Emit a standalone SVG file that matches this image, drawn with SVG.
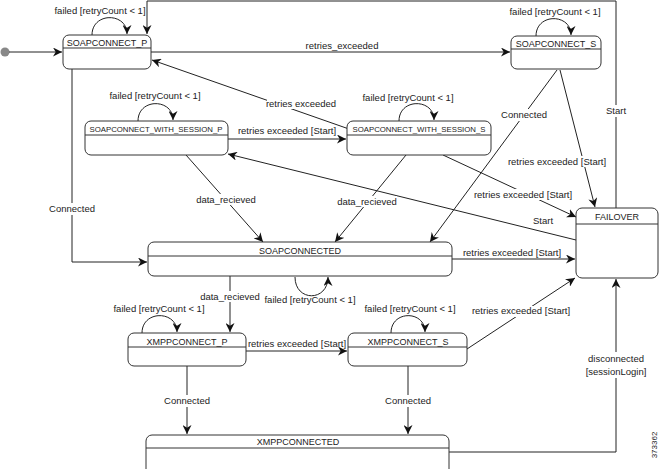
<svg xmlns="http://www.w3.org/2000/svg" width="660" height="469" viewBox="0 0 660 469">
<style>
.n{fill:#fff;stroke:#333;stroke-width:1}
.h{stroke:#333;stroke-width:1}
.c{fill:none;stroke:#222;stroke-width:1}
text{font-family:"Liberation Sans",Arial,sans-serif;font-size:9.5px;fill:#222;text-anchor:middle}
.t{font-size:9px}
.ts{font-size:7.8px}
.lb{fill:#fff;stroke:none}
</style>
<defs>
<marker id="a" viewBox="0 0 10 10" refX="10" refY="5" markerWidth="9" markerHeight="9" orient="auto" markerUnits="userSpaceOnUse"><path d="M0,0 L10,5 L0,10 L3,5 z" fill="#111"/></marker>
</defs>
<rect width="660" height="469" fill="#fff"/>
<g id="connectors">
<circle cx="5" cy="52" r="4.5" fill="#888"/>
<path class="c" d="M9,52 H62" marker-end="url(#a)"/>
<path class="c" d="M151,52 H510" marker-end="url(#a)"/>
<text x="342" y="49">retries_exceeded</text>
<path class="c" d="M616,208 V1 H147 V34" marker-end="url(#a)"/>
<rect class="lb" x="603" y="105" width="26" height="12"/><text x="616" y="114">Start</text>
<path class="c" d="M92,35 C92,12 127,12 127,34" marker-end="url(#a)"/>
<text x="100" y="14">failed [retryCount &lt; 1]</text>
<path class="c" d="M138,121 C138,98 173,98 173,120" marker-end="url(#a)"/>
<text x="155" y="99">failed [retryCount &lt; 1]</text>
<path class="c" d="M399,121 C399,98 434,98 434,120" marker-end="url(#a)"/>
<text x="408" y="101">failed [retryCount &lt; 1]</text>
<path class="c" d="M536,36 C536,13 571,13 571,35" marker-end="url(#a)"/>
<text x="555" y="15">failed [retryCount &lt; 1]</text>
<path class="c" d="M295,277 C295,302 328,302 328,277" marker-end="url(#a)"/>
<text x="310" y="303">failed [retryCount &lt; 1]</text>
<path class="c" d="M142,333 C142,310 177,310 177,332" marker-end="url(#a)"/>
<text x="159" y="312">failed [retryCount &lt; 1]</text>
<path class="c" d="M391,333 C391,310 425,310 425,332" marker-end="url(#a)"/>
<text x="410" y="312">failed [retryCount &lt; 1]</text>
<path class="c" d="M349,129 L152,60" marker-end="url(#a)"/>
<rect class="lb" x="267" y="98" width="68" height="11"/><text x="301" y="107">retries exceeded</text>
<path class="c" d="M228,139 H346" marker-end="url(#a)"/>
<text x="287" y="134">retries exceeded [Start]</text>
<path class="c" d="M576,240 L228,154" marker-end="url(#a)"/>
<rect class="lb" x="530" y="215" width="26" height="12"/><text x="543" y="224">Start</text>
<path class="c" d="M443,155 L576,217" marker-end="url(#a)"/>
<rect class="lb" x="474" y="189" width="98" height="11"/><text x="523" y="198">retries exceeded [Start]</text>
<path class="c" d="M560,70 L595,207" marker-end="url(#a)"/>
<rect class="lb" x="508" y="156" width="98" height="11"/><text x="557" y="165">retries exceeded [Start]</text>
<path class="c" d="M557,70 L430,242" marker-end="url(#a)"/>
<rect class="lb" x="500" y="109" width="48" height="12"/><text x="524" y="118">Connected</text>
<path class="c" d="M186,155 L263,242" marker-end="url(#a)"/>
<rect class="lb" x="196" y="194" width="60" height="11"/><text x="226" y="203">data_recieved</text>
<path class="c" d="M406,155 L335,242" marker-end="url(#a)"/>
<rect class="lb" x="337" y="196" width="60" height="11"/><text x="367" y="205">data_recieved</text>
<path class="c" d="M72,69 V262 H147" marker-end="url(#a)"/>
<rect class="lb" x="48" y="203" width="48" height="12"/><text x="72" y="212">Connected</text>
<path class="c" d="M452,259 H575" marker-end="url(#a)"/>
<text x="512" y="256">retries exceeded [Start]</text>
<path class="c" d="M230,276 V332" marker-end="url(#a)"/>
<rect class="lb" x="200" y="291" width="60" height="11"/><text x="230" y="300">data_recieved</text>
<path class="c" d="M246,351 H347" marker-end="url(#a)"/>
<text x="297" y="347">retries exceeded [Start]</text>
<path class="c" d="M467,349 L575,278" marker-end="url(#a)"/>
<rect class="lb" x="472" y="306" width="98" height="11"/><text x="521" y="314">retries exceeded [Start]</text>
<path class="c" d="M187,366 V434" marker-end="url(#a)"/>
<rect class="lb" x="163" y="395" width="48" height="12"/><text x="187" y="404">Connected</text>
<path class="c" d="M408,366 V434" marker-end="url(#a)"/>
<rect class="lb" x="384" y="395" width="48" height="12"/><text x="408" y="404">Connected</text>
<path class="c" d="M449,452 H616 V279" marker-end="url(#a)"/>
<rect class="lb" x="588" y="352" width="56" height="26"/><text x="616" y="362">disconnected</text><text x="616" y="375">[sessionLogin]</text>
<text x="0" y="0" transform="translate(657,445) rotate(-90)" style="font-size:8px">373362</text>
</g>
<g id="SOAPCONNECT_P"><rect class="n" x="63" y="35" width="88" height="34" rx="6"/><line class="h" x1="63" y1="48" x2="151" y2="48"/><text class="t" x="107" y="46">SOAPCONNECT_P</text></g>
<g id="SOAPCONNECT_S"><rect class="n" x="511" y="36" width="90" height="33" rx="6"/><line class="h" x1="511" y1="49" x2="601" y2="49"/><text class="t" x="556" y="47">SOAPCONNECT_S</text></g>
<g id="SCWS_P"><rect class="n" x="85" y="121" width="143" height="34" rx="6"/><line class="h" x1="85" y1="135" x2="228" y2="135"/><text class="ts" x="156" y="132">SOAPCONNECT_WITH_SESSION_P</text></g>
<g id="SCWS_S"><rect class="n" x="347" y="121" width="144" height="34" rx="6"/><line class="h" x1="347" y1="135" x2="491" y2="135"/><text class="ts" x="419" y="132">SOAPCONNECT_WITH_SESSION_S</text></g>
<g id="FAILOVER"><rect class="n" x="576" y="208" width="82" height="70" rx="6"/><line class="h" x1="576" y1="224" x2="658" y2="224"/><text class="t" x="617" y="220">FAILOVER</text></g>
<g id="SOAPCONNECTED"><rect class="n" x="148" y="242" width="304" height="34" rx="6"/><line class="h" x1="148" y1="256" x2="452" y2="256"/><text class="t" x="300" y="254">SOAPCONNECTED</text></g>
<g id="XMPPCONNECT_P"><rect class="n" x="128" y="333" width="118" height="33" rx="6"/><line class="h" x1="128" y1="347" x2="246" y2="347"/><text class="t" x="187" y="345">XMPPCONNECT_P</text></g>
<g id="XMPPCONNECT_S"><rect class="n" x="348" y="333" width="119" height="33" rx="6"/><line class="h" x1="348" y1="347" x2="467" y2="347"/><text class="t" x="408" y="345">XMPPCONNECT_S</text></g>
<g id="XMPPCONNECTED"><rect class="n" x="146" y="435" width="303" height="40" rx="6"/><line class="h" x1="146" y1="448" x2="449" y2="448"/><text class="t" x="298" y="445">XMPPCONNECTED</text></g>
</svg>
